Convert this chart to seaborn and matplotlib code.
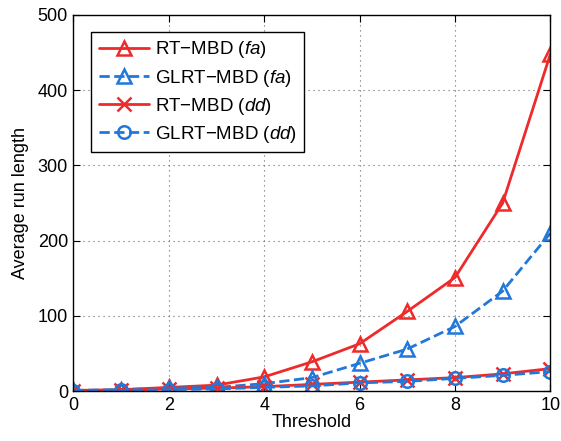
import matplotlib
matplotlib.use("Agg")
import matplotlib.pyplot as plt
import seaborn as sns
import pandas as pd

thresholds = [0, 1, 2, 3, 4, 5, 6, 7, 8, 9, 10]
rt_fa = [1, 2, 5, 8, 19, 39, 63, 106, 151, 250, 448]
glrt_fa = [1, 2, 4, 5, 10, 18, 37, 56, 86, 133, 210]
rt_dd = [0, 1, 3, 4, 6, 9, 12, 15, 18, 23, 30]
glrt_dd = [0, 1, 2, 3, 5, 7, 11, 13, 17, 21, 26]

RED = "#EE2A2A"
BLUE = "#2178DA"

sns.set_style("ticks")
plt.rcParams["font.family"] = ["Liberation Sans", "DejaVu Sans"]
plt.rcParams["mathtext.fontset"] = "custom"
plt.rcParams["mathtext.it"] = "Liberation Sans:italic"
plt.rcParams["mathtext.rm"] = "Liberation Sans"
plt.rcParams["text.color"] = "black"
plt.rcParams["axes.labelcolor"] = "black"
plt.rcParams["xtick.color"] = "black"
plt.rcParams["ytick.color"] = "black"

fig = plt.figure(figsize=(5.61, 4.41), dpi=100)
ax = fig.add_axes([0.131, 0.113, 0.850, 0.853])

series = [
    ("RT\u2212MBD ($\\it{fa}$)", rt_fa, RED, "-", "^"),
    ("GLRT\u2212MBD ($\\it{fa}$)", glrt_fa, BLUE, "--", "^"),
    ("RT\u2212MBD ($\\it{dd}$)", rt_dd, RED, "-", "x"),
    ("GLRT\u2212MBD ($\\it{dd}$)", glrt_dd, BLUE, "--", "o"),
]

for label, vals, color, ls, marker in series:
    df = pd.DataFrame({"x": thresholds, "y": vals})
    sns.lineplot(data=df, x="x", y="y", ax=ax, color=color, linestyle=ls,
                 linewidth=2, marker=marker, markersize=10 if marker != "o" else 9,
                 markerfacecolor="none", markeredgecolor=color, markeredgewidth=1.8,
                 label=label, dashes=False if ls == "-" else (3, 2.5))

ax.set_xlim(0, 10)
ax.set_ylim(0, 500)
ax.set_xticks(range(0, 11, 2))
ax.set_yticks(range(0, 501, 100))
ax.grid(True, linestyle=(0, (1, 3.5)), color="#666666", linewidth=0.8)
ax.tick_params(direction="in", top=True, right=True, labelsize=13, length=5,
               pad=4)
for s in ax.spines.values():
    s.set_visible(True)
    s.set_linewidth(1.0)
    s.set_color("black")
ax.set_xlabel("Threshold", fontsize=13, labelpad=0)
ax.set_ylabel("Average run length", fontsize=13, labelpad=6)

leg = ax.legend(loc="upper left", bbox_to_anchor=(0.025, 0.97), fontsize=13.5,
                frameon=True, fancybox=False, edgecolor="black",
                handlelength=2.7, handletextpad=0.3, labelspacing=0.38,
                borderpad=0.4, borderaxespad=0.3)
leg.get_frame().set_linewidth(1.0)
leg.get_frame().set_alpha(1)

fig.savefig("out.png", dpi=100)
